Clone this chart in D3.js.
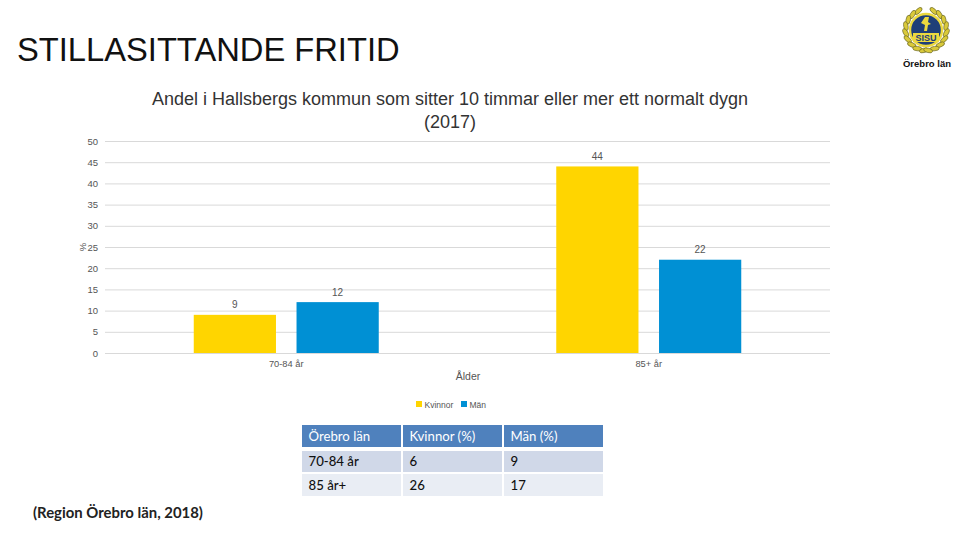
<!DOCTYPE html>
<html>
<head>
<meta charset="utf-8">
<script src="https://cdnjs.cloudflare.com/ajax/libs/d3/7.8.5/d3.min.js"></script>
<style>
  html, body { margin: 0; padding: 0; background: #fff; }
  svg { display: block; }
  text { font-family: "Liberation Sans", Arial, sans-serif; }
  .tbl text, .source { font-family: Lato, "Open Sans", sans-serif; }
</style>
</head>
<body>
<svg id="chart" width="960" height="540"></svg>
<script>
var categories = ["70-84 år", "85+ år"];
var seriesNames = ["Kvinnor", "Män"];
var kvinnor = [9, 44];
var man = [12, 22];
var yTicks = [0, 5, 10, 15, 20, 25, 30, 35, 40, 45, 50];

var tableHeader = ["Örebro län", "Kvinnor (%)", "Män (%)"];
var tableRow1 = ["70-84 år", "6", "9"];
var tableRow2 = ["85 år+", "26", "17"];

var colors = ["#ffd500", "#0090d4"];
var svg = d3.select("#chart");

// headings
svg.append("text").attr("x", 17).attr("y", 61)
  .attr("font-size", 32.7).attr("fill", "#111").text("STILLASITTANDE FRITID");
svg.append("text").attr("x", 450).attr("y", 105).attr("text-anchor", "middle")
  .attr("font-size", 18).attr("fill", "#333")
  .text("Andel i Hallsbergs kommun som sitter 10 timmar eller mer ett normalt dygn");
svg.append("text").attr("x", 450).attr("y", 128).attr("text-anchor", "middle")
  .attr("font-size", 18).attr("fill", "#333").text("(2017)");

// scales
var x0 = d3.scaleBand().domain(categories).range([105, 830]);
var x1 = d3.scaleBand().domain(seriesNames)
  .range([x0.bandwidth() / 2 - 92.5, x0.bandwidth() / 2 + 92.5])
  .paddingInner(0.2).paddingOuter(0);
var y = d3.scaleLinear().domain([0, 50]).range([353, 141]);

// y axis with gridlines
var yAxis = svg.append("g").attr("transform", "translate(105,0)")
  .call(d3.axisLeft(y).tickValues(yTicks).tickSize(-725).tickPadding(7));
yAxis.select(".domain").remove();
yAxis.selectAll(".tick line").attr("stroke", "#d9d9d9").attr("stroke-width", 1);
yAxis.selectAll(".tick text")
  .attr("font-family", "Liberation Sans").attr("font-size", 9.5).attr("fill", "#555");

svg.append("text").attr("x", 83).attr("y", 247).attr("text-anchor", "middle")
  .attr("dominant-baseline", "middle")
  .attr("transform", "rotate(-90 83 247)")
  .attr("font-size", 9.5).attr("fill", "#555").text("%");

// x axis labels
var xAxis = svg.append("g").attr("transform", "translate(0,353)")
  .call(d3.axisBottom(x0).tickSize(0).tickPadding(7));
xAxis.select(".domain").remove();
xAxis.selectAll(".tick text")
  .attr("font-family", "Liberation Sans").attr("font-size", 9.3).attr("fill", "#555");

svg.append("text").attr("x", 468).attr("y", 380).attr("text-anchor", "middle")
  .attr("font-size", 10.5).attr("fill", "#555").text("Ålder");

// bars
[kvinnor, man].forEach(function(values, s) {
  var g = svg.append("g").selectAll("g")
    .data(values)
    .enter()
    .append("g");
  g.append("rect")
    .attr("x", function(d, i) { return x0(categories[i]) + x1(seriesNames[s]); })
    .attr("y", function(d) { return y(d); })
    .attr("width", x1.bandwidth())
    .attr("height", function(d) { return y(0) - y(d); })
    .attr("fill", colors[s]);
  g.append("text")
    .attr("x", function(d, i) { return x0(categories[i]) + x1(seriesNames[s]) + x1.bandwidth() / 2; })
    .attr("y", function(d) { return y(d) - 6.5; })
    .attr("text-anchor", "middle")
    .attr("font-size", 10).attr("fill", "#555")
    .text(function(d) { return d; });
});

// legend
var legendX = [416, 461];
var legend = svg.append("g").selectAll("g")
  .data(seriesNames)
  .enter()
  .append("g")
  .attr("transform", function(d, i) { return "translate(" + legendX[i] + ",401)"; });
legend.append("rect").attr("width", 6).attr("height", 6)
  .attr("fill", function(d, i) { return colors[i]; });
legend.append("text").attr("x", 8.5).attr("y", 7)
  .attr("font-size", 8.5).attr("fill", "#555")
  .text(function(d) { return d; });

// table
var colX = [302, 403, 504];
var colW = 99;
var rowY = [425, 451, 474];
var rowH = [22, 21, 22];
var rowFill = ["#4f81bd", "#d0d8e8", "#e9edf4"];
var tbl = svg.append("g").attr("class", "tbl");
[tableHeader, tableRow1, tableRow2].forEach(function(row, r) {
  var cell = tbl.append("g").selectAll("g")
    .data(row)
    .enter()
    .append("g")
    .attr("transform", function(d, i) { return "translate(" + colX[i] + "," + rowY[r] + ")"; });
  cell.append("rect").attr("width", colW).attr("height", rowH[r]).attr("fill", rowFill[r]);
  cell.append("text").attr("x", 6.5).attr("y", rowH[r] / 2 + 4.5)
    .attr("font-size", 13.2)
    .attr("font-weight", r == 0 ? 400 : 500)
    .attr("fill", r == 0 ? "#fff" : "#111")
    .text(function(d) { return d; });
});

svg.append("text").attr("class", "source").attr("x", 33).attr("y", 518)
  .attr("font-size", 14.9).attr("font-weight", 700).attr("fill", "#222")
  .text("(Region Örebro län, 2018)");

// logo
var logo = svg.append("g").attr("transform", "translate(926,30)");
[-1, 1].forEach(function(side) {
  d3.range(9).forEach(function(k) {
    var a = (-68 + k * 19) * Math.PI / 180;
    var px = side * 20.5 * Math.cos(a), py = 20.5 * Math.sin(a);
    logo.append("ellipse").attr("cx", px).attr("cy", py).attr("rx", 2.2).attr("ry", 4.6)
      .attr("fill", "#d9c93a").attr("stroke", "#5d5c22").attr("stroke-width", 0.6)
      .attr("transform", "rotate(" + (side * (a * 180 / Math.PI + 20)) + " " + px + " " + py + ")");
  });
});
logo.append("circle").attr("r", 16).attr("fill", "#1f3f78").attr("stroke", "#ecd93f").attr("stroke-width", 2.4);
logo.append("rect").attr("x", -13).attr("y", 3).attr("width", 26).attr("height", 9).attr("fill", "#ecd93f");
logo.append("path").attr("d", "M-1 -13 L3 -13 L2 -8 L5 -6 L2 -5 L1 1 L-2 1 L-1 -5 L-5 -7 Z").attr("fill", "#ecd93f");
logo.append("text").attr("y", 11).attr("text-anchor", "middle").attr("font-size", 9)
  .attr("font-weight", 700).attr("fill", "#1f3f78").text("SISU");
svg.append("text").attr("x", 927).attr("y", 67).attr("text-anchor", "middle")
  .attr("font-size", 9.5).attr("font-weight", 700).attr("fill", "#111").text("Örebro län");
</script>
</body>
</html>
